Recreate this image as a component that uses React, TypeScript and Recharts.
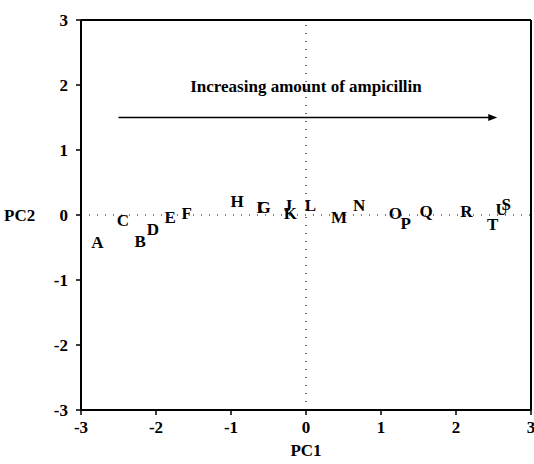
import React from "react";
import { ScatterChart, Scatter, XAxis, YAxis, ReferenceLine, ReferenceDot } from "recharts";

const labels = ["A","B","C","D","E","F","G","H","I","J","K","L","M","N","O","P","Q","R","S","T","U"];
const pc1 = [-2.78,-2.21,-2.44,-2.04,-1.81,-1.59,-0.56,-0.92,-0.62,-0.24,-0.21,0.06,0.44,0.71,1.19,1.33,1.60,2.14,2.67,2.49,2.61];
const pc2 = [-0.42,-0.40,-0.08,-0.22,-0.04,0.02,0.12,0.21,0.12,0.14,0.02,0.14,-0.04,0.14,0.03,-0.13,0.06,0.06,0.16,-0.14,0.09];
const ticks = [-3,-2,-1,0,1,2,3];
const annotation = "Increasing amount of ampicillin";
const arrowStart = { x: -2.5, y: 1.5 };
const arrowEnd = { x: 2.55, y: 1.5 };
const annotationPos = { x: 0, y: 1.97 };

const data = labels.map((l, i) => ({ label: l, x: pc1[i], y: pc2[i] }));

const FONT = "'Liberation Serif', 'Times New Roman', serif";

const Letter = (props: any) => {
  const { cx, cy, payload } = props;
  return (
    <text x={cx} y={cy} textAnchor="middle" dominantBaseline="central"
      fontFamily={FONT} fontWeight="bold" fontSize={17} fill="#000">
      {payload.label}
    </text>
  );
};

const Arrow = (props: any) => {
  const { x1, y1, x2, y2 } = props;
  return (
    <g>
      <line x1={x1} y1={y1} x2={x2 - 6} y2={y2} stroke="#000" strokeWidth={1.3} />
      <polygon points={`${x2},${y2} ${x2 - 9},${y2 - 3.5} ${x2 - 9},${y2 + 3.5}`} fill="#000" />
    </g>
  );
};

const AnnText = (props: any) => {
  const { cx, cy } = props;
  return (
    <text x={cx} y={cy} textAnchor="middle" dominantBaseline="central"
      fontFamily={FONT} fontWeight="bold" fontSize={17} fill="#000">
      {annotation}
    </text>
  );
};

export default function App() {
  const tickStyle = { fontFamily: FONT, fontWeight: "bold", fontSize: 17, fill: "#000" } as any;
  const labelStyle = { fontFamily: FONT, fontWeight: "bold", fontSize: 17, fill: "#000" } as any;
  return (
    <div style={{ position: "absolute", left: 0, top: 0, background: "#fff" }}>
      <ScatterChart width={534} height={464} margin={{ top: 20, right: 3, left: 0, bottom: 0 }}>
        <XAxis type="number" dataKey="x" domain={[-3, 3]} ticks={ticks} interval={0}
          height={54} tickSize={5} tickMargin={6} tick={tickStyle}
          axisLine={{ stroke: "#000", strokeWidth: 2 }} tickLine={{ stroke: "#000", strokeWidth: 1.5 }}
          allowDataOverflow
          label={{ value: "PC1", position: "insideBottom", offset: 8, style: labelStyle }} />
        <YAxis type="number" dataKey="y" domain={[-3, 3]} ticks={ticks} interval={0}
          width={81} tickSize={5} tickMargin={8} tick={tickStyle}
          axisLine={{ stroke: "#000", strokeWidth: 2 }} tickLine={{ stroke: "#000", strokeWidth: 1.5 }}
          allowDataOverflow
          label={{ value: "PC2", position: "insideLeft", offset: 4, style: labelStyle }} />
        <ReferenceLine y={3} stroke="#000" strokeWidth={2} />
        <ReferenceLine x={3} stroke="#000" strokeWidth={2} />
        <ReferenceLine y={0} stroke="#000" strokeWidth={1.2} strokeDasharray="1 7" />
        <ReferenceLine x={0} stroke="#000" strokeWidth={1.2} strokeDasharray="1 7" />
        <ReferenceLine segment={[arrowStart, arrowEnd]} shape={Arrow} />
        <ReferenceDot x={annotationPos.x} y={annotationPos.y} r={0} shape={AnnText} />
        <Scatter data={data} isAnimationActive={false} shape={Letter} />
      </ScatterChart>
    </div>
  );
}
